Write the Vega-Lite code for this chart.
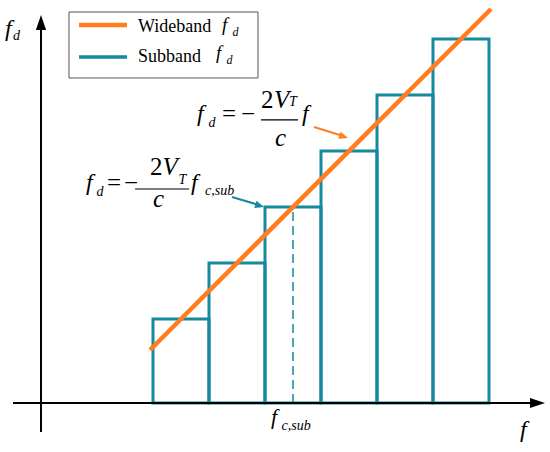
{
  "$schema": "https://vega.github.io/schema/vega-lite/v6.json",
  "width": 550,
  "height": 452,
  "padding": 0,
  "autosize": {"type": "fit", "contains": "padding"},
  "background": "white",
  "config": {"view": {"stroke": null}},
  "datasets": {
    "bars": [
      {"x0": 2, "x1": 3, "top": 1.5},
      {"x0": 3, "x1": 4, "top": 2.5},
      {"x0": 4, "x1": 5, "top": 3.5},
      {"x0": 5, "x1": 6, "top": 4.5},
      {"x0": 6, "x1": 7, "top": 5.5},
      {"x0": 7, "x1": 8, "top": 6.5}
    ],
    "segs": [
      {"kind": "box", "x": 0.5, "y": 6.982, "x2": 3.875, "y2": 5.804},
      {"kind": "wide", "x": 1.946, "y": 0.946, "x2": 8.036, "y2": 7.036},
      {"kind": "dash", "x": 4.5, "y": 0, "x2": 4.5, "y2": 3.5},
      {"kind": "axis", "x": -0.5, "y": 0, "x2": 8.8, "y2": 0},
      {"kind": "axis", "x": 0, "y": -0.518, "x2": 0, "y2": 6.8},
      {"kind": "frac", "x": 3.929, "y": 5.054, "x2": 4.589, "y2": 5.054},
      {"kind": "frac", "x": 1.68, "y": 3.821, "x2": 2.643, "y2": 3.821},
      {"kind": "arrowO", "x": 4.875, "y": 4.929, "x2": 5.41, "y2": 4.764},
      {"kind": "arrowT", "x": 3.411, "y": 3.679, "x2": 3.91, "y2": 3.53},
      {"kind": "legO", "x": 0.679, "y": 6.75, "x2": 1.536, "y2": 6.75},
      {"kind": "legT", "x": 0.679, "y": 6.179, "x2": 1.536, "y2": 6.179}
    ],
    "heads": [
      {"kind": "axisX", "x": 9.0, "y": 0, "angle": 0},
      {"kind": "axisY", "x": 0, "y": 6.929, "angle": -90},
      {"kind": "headO", "x": 5.482, "y": 4.732, "angle": 17.9},
      {"kind": "headT", "x": 3.982, "y": 3.5, "angle": 17.4}
    ],
    "texts": [
      {"role": "leg", "x": 1.732, "y": 6.625, "t": "Wideband"},
      {"role": "leg", "x": 1.732, "y": 6.089, "t": "Subband"},
      {"role": "legf", "x": 3.232, "y": 6.643, "t": "f"},
      {"role": "legd", "x": 3.42, "y": 6.554, "t": "d"},
      {"role": "legf", "x": 3.125, "y": 6.143, "t": "f"},
      {"role": "legd", "x": 3.312, "y": 6.054, "t": "d"},
      {"role": "fi", "x": -0.643, "y": 6.554, "t": "f"},
      {"role": "sub", "x": -0.5, "y": 6.482, "t": "d"},
      {"role": "fi", "x": 8.554, "y": -0.607, "t": "f"},
      {"role": "fs", "x": 4.107, "y": -0.375, "t": "f"},
      {"role": "sub", "x": 4.295, "y": -0.482, "t": "c,sub"},
      {"role": "fi", "x": 2.786, "y": 5.036, "t": "f"},
      {"role": "sub", "x": 2.991, "y": 4.929, "t": "d"},
      {"role": "up", "x": 3.232, "y": 5.018, "t": "="},
      {"role": "up", "x": 3.571, "y": 5.018, "t": "−"},
      {"role": "up", "x": 3.93, "y": 5.268, "t": "2"},
      {"role": "it", "x": 4.16, "y": 5.268, "t": "V"},
      {"role": "sub", "x": 4.43, "y": 5.304, "t": "T"},
      {"role": "it", "x": 4.179, "y": 4.589, "t": "c"},
      {"role": "fi", "x": 4.661, "y": 5.036, "t": "f"},
      {"role": "fi", "x": 0.804, "y": 3.804, "t": "f"},
      {"role": "sub", "x": 0.991, "y": 3.696, "t": "d"},
      {"role": "up", "x": 1.179, "y": 3.786, "t": "="},
      {"role": "up", "x": 1.482, "y": 3.786, "t": "−"},
      {"role": "up", "x": 1.946, "y": 4.071, "t": "2"},
      {"role": "it", "x": 2.17, "y": 4.071, "t": "V"},
      {"role": "sub", "x": 2.455, "y": 3.911, "t": "T"},
      {"role": "it", "x": 2.0, "y": 3.5, "t": "c"},
      {"role": "fi", "x": 2.679, "y": 3.804, "t": "f"},
      {"role": "sub", "x": 2.93, "y": 3.714, "t": "c,sub"}
    ]
  },
  "encoding": {
    "x": {"field": "x", "type": "quantitative", "scale": {"domain": [-0.7321, 9.0893], "nice": false, "zero": false}, "axis": null},
    "y": {"field": "y", "type": "quantitative", "scale": {"domain": [-0.875, 7.1964], "nice": false, "zero": false}, "axis": null}
  },
  "layer": [
    {
      "data": {"name": "segs"},
      "transform": [{"filter": "datum.kind == 'box'"}],
      "mark": {"type": "rect", "fill": "white", "stroke": "#555555", "strokeWidth": 1},
      "encoding": {"x2": {"field": "x2"}, "y2": {"field": "y2"}}
    },
    {
      "data": {"name": "bars"},
      "mark": {"type": "rect", "fill": null, "fillOpacity": 0, "stroke": "#15899D", "strokeWidth": 3},
      "encoding": {
        "x": {"field": "x0", "type": "quantitative"},
        "x2": {"field": "x1"},
        "y": {"field": "top", "type": "quantitative"},
        "y2": {"datum": 0}
      }
    },
    {
      "data": {"name": "segs"},
      "transform": [{"filter": "datum.kind == 'dash'"}],
      "mark": {"type": "rule", "stroke": "#15899D", "strokeWidth": 1.5, "strokeDash": [9, 5]},
      "encoding": {"x2": {"field": "x2"}, "y2": {"field": "y2"}}
    },
    {
      "data": {"name": "segs"},
      "transform": [{"filter": "datum.kind == 'wide' || datum.kind == 'legO'"}],
      "mark": {"type": "rule", "stroke": "#FF7D1E", "strokeWidth": 4.5},
      "encoding": {"x2": {"field": "x2"}, "y2": {"field": "y2"}}
    },
    {
      "data": {"name": "segs"},
      "transform": [{"filter": "datum.kind == 'legT'"}],
      "mark": {"type": "rule", "stroke": "#15899D", "strokeWidth": 3.5},
      "encoding": {"x2": {"field": "x2"}, "y2": {"field": "y2"}}
    },
    {
      "data": {"name": "segs"},
      "transform": [{"filter": "datum.kind == 'axis'"}],
      "mark": {"type": "rule", "stroke": "black", "strokeWidth": 2},
      "encoding": {"x2": {"field": "x2"}, "y2": {"field": "y2"}}
    },
    {
      "data": {"name": "segs"},
      "transform": [{"filter": "datum.kind == 'frac'"}],
      "mark": {"type": "rule", "stroke": "black", "strokeWidth": 1.2},
      "encoding": {"x2": {"field": "x2"}, "y2": {"field": "y2"}}
    },
    {
      "data": {"name": "segs"},
      "transform": [{"filter": "datum.kind == 'arrowO'"}],
      "mark": {"type": "rule", "stroke": "#FF7D1E", "strokeWidth": 2},
      "encoding": {"x2": {"field": "x2"}, "y2": {"field": "y2"}}
    },
    {
      "data": {"name": "segs"},
      "transform": [{"filter": "datum.kind == 'arrowT'"}],
      "mark": {"type": "rule", "stroke": "#15899D", "strokeWidth": 2},
      "encoding": {"x2": {"field": "x2"}, "y2": {"field": "y2"}}
    },
    {
      "data": {"name": "heads"},
      "transform": [{"filter": "datum.kind == 'axisX' || datum.kind == 'axisY'"}],
      "mark": {"type": "point", "shape": "M0,0L-1,-0.34L-1,0.34Z", "size": 900, "filled": true, "color": "black", "opacity": 1, "strokeWidth": 0},
      "encoding": {"angle": {"field": "angle", "type": "quantitative", "scale": null}}
    },
    {
      "data": {"name": "heads"},
      "transform": [{"filter": "datum.kind == 'headO'"}],
      "mark": {"type": "point", "shape": "M0,0L-1,-0.42L-1,0.42Z", "size": 324, "filled": true, "color": "#FF7D1E", "opacity": 1, "strokeWidth": 0},
      "encoding": {"angle": {"field": "angle", "type": "quantitative", "scale": null}}
    },
    {
      "data": {"name": "heads"},
      "transform": [{"filter": "datum.kind == 'headT'"}],
      "mark": {"type": "point", "shape": "M0,0L-1,-0.42L-1,0.42Z", "size": 324, "filled": true, "color": "#15899D", "opacity": 1, "strokeWidth": 0},
      "encoding": {"angle": {"field": "angle", "type": "quantitative", "scale": null}}
    },
    {
      "data": {"name": "texts"},
      "transform": [{"filter": "datum.role == 'leg'"}],
      "mark": {"type": "text", "align": "left", "baseline": "alphabetic", "font": "Liberation Serif", "fontSize": 18, "color": "black"},
      "encoding": {"text": {"field": "t"}}
    },
    {
      "data": {"name": "texts"},
      "transform": [{"filter": "datum.role == 'legf'"}],
      "mark": {"type": "text", "align": "left", "baseline": "alphabetic", "font": "Liberation Serif", "fontStyle": "italic", "fontSize": 19, "color": "black"},
      "encoding": {"text": {"field": "t"}}
    },
    {
      "data": {"name": "texts"},
      "transform": [{"filter": "datum.role == 'legd'"}],
      "mark": {"type": "text", "align": "left", "baseline": "alphabetic", "font": "Liberation Serif", "fontStyle": "italic", "fontSize": 12, "color": "black"},
      "encoding": {"text": {"field": "t"}}
    },
    {
      "data": {"name": "texts"},
      "transform": [{"filter": "datum.role == 'fi'"}],
      "mark": {"type": "text", "align": "left", "baseline": "alphabetic", "font": "Liberation Serif", "fontStyle": "italic", "fontSize": 24, "color": "black"},
      "encoding": {"text": {"field": "t"}}
    },
    {
      "data": {"name": "texts"},
      "transform": [{"filter": "datum.role == 'fs'"}],
      "mark": {"type": "text", "align": "left", "baseline": "alphabetic", "font": "Liberation Serif", "fontStyle": "italic", "fontSize": 22, "color": "black"},
      "encoding": {"text": {"field": "t"}}
    },
    {
      "data": {"name": "texts"},
      "transform": [{"filter": "datum.role == 'it'"}],
      "mark": {"type": "text", "align": "left", "baseline": "alphabetic", "font": "Liberation Serif", "fontStyle": "italic", "fontSize": 25, "color": "black"},
      "encoding": {"text": {"field": "t"}}
    },
    {
      "data": {"name": "texts"},
      "transform": [{"filter": "datum.role == 'up'"}],
      "mark": {"type": "text", "align": "left", "baseline": "alphabetic", "font": "Liberation Serif", "fontSize": 25, "color": "black"},
      "encoding": {"text": {"field": "t"}}
    },
    {
      "data": {"name": "texts"},
      "transform": [{"filter": "datum.role == 'sub'"}],
      "mark": {"type": "text", "align": "left", "baseline": "alphabetic", "font": "Liberation Serif", "fontStyle": "italic", "fontSize": 14, "color": "black"},
      "encoding": {"text": {"field": "t"}}
    }
  ]
}
